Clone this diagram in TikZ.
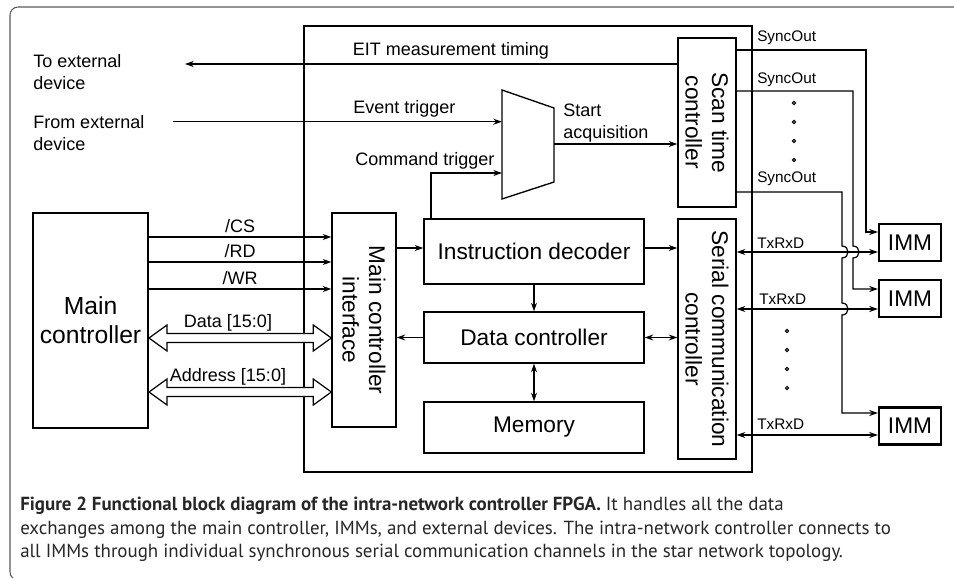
\documentclass[tikz,border=0pt]{standalone}
\usepackage{fontspec}
\setmainfont{Liberation Sans}
\newfontfamily\capfont{PT Sans}
\usetikzlibrary{arrows.meta}
\usetikzlibrary{calc}

\tikzset{
  blk/.style={draw, line width=1pt, inner sep=0pt, align=center, font=\fontsize{17}{20}\selectfont},
  sz/.style 2 args={minimum width=#1*0.75pt, minimum height=#2*0.75pt},
  lbl/.style={inner sep=0pt, align=left, font=\fontsize{13.5}{17}\selectfont},
  sml/.style={inner sep=0pt, font=\fontsize{11.5}{14}\selectfont},
  sig/.style={line width=0.9pt},
}

% wide hollow bus arrow between main controller and its interface
\newcommand{\busarrow}[2]{%
  \draw[line width=0.9pt, fill=white] (mainc.east|-0,#1) -- ++(18,-13) -- ++(0,8.5)
    -- ($(mif.south|-0,#1)+(-18,-4.5)$) -- ++(0,-8.5) -- (mif.south|-0,#1)
    -- ++(-18,13) -- ++(0,-8.5) -- ($(mainc.east|-0,#1)+(18,4.5)$) -- ++(0,8.5) -- cycle;
  \node[lbl] at (228,#1-15) {#2};}

\begin{document}
\begin{tikzpicture}[x=0.75pt, y=-0.75pt, >={Stealth[length=6.5pt,width=4.5pt]}]
  \useasboundingbox (0,0) rectangle (954,578);
  \draw[black!65, line width=0.8pt, rounded corners=6pt] (954,7) -- (10,7) -- (10,580) -- (40,580);

  % FPGA and its blocks
  \node[draw, line width=1.9pt, sz={448}{446}] (fpga) at (528,249) {};
  \node[blk, line width=1.5pt, sz={115}{215}, font=\fontsize{18.5}{21.75}\selectfont] (mainc) at (90.5,320.5) {Main\\controller};
  \node[blk, rotate=-90, sz={214}{64}] (mif) at (364,320) {Main controller\\interface};
  \node[blk, sz={220}{65}] (dec) at (534,251.5) {Instruction decoder};
  \node[blk, sz={220}{51}] (dctl) at (534,337.5) {Data controller};
  \node[blk, sz={220}{51}] (mem) at (534,427.5) {Memory};
  \node[blk, rotate=-90, sz={169}{58}] (scan) at (707,122.5) {Scan time\\controller};
  \node[blk, rotate=-90, sz={240}{58}] (ser) at (707,339) {Serial communication\\controller};
  \node[blk, line width=1.6pt, sz={62}{37}] (imm1) at (910,242.5) {IMM};
  \node[blk, line width=1.6pt, sz={62}{37}] (imm2) at (910,298.5) {IMM};
  \node[blk, line width=1.6pt, sz={62}{37}] (imm3) at (910,426) {IMM};

  % trigger selector
  \draw[line width=1pt] (502,90) -- (554,108) -- (554,182) -- (502,199) -- cycle;
  \coordinate (muxin1) at (502,121.7);
  \coordinate (muxin2) at (502,173);
  \coordinate (muxout) at (554,144);

  % external device lines
  \node[lbl, anchor=west] (toext) at (33,72) {To external\\device};
  \node[lbl, anchor=west] (fromext) at (33,133) {From external\\device};
  \coordinate (toend) at (185,64);
  \coordinate (fromend) at (173,121.7);
  \draw[->, sig] (scan.south|-0,64) -- (toend);
  \node[lbl] at (451,51) {EIT measurement timing};
  \draw[->, sig] (fromend) -- (muxin1);
  \node[lbl, anchor=west] at (353,109) {Event trigger};
  \draw[->, sig] (dec.north-|431,0) |- (muxin2);
  \node[lbl, anchor=west] at (355,161) {Command trigger};
  \draw[->, sig] (muxout) -- (muxout-|scan.south);
  \node[lbl, anchor=west] at (563,123) {Start\\acquisition};

  % main controller bus
  \draw[->, sig] (mainc.east|-0,237) -- (mif.south|-0,237) node[midway, above=3pt, lbl] {/CS};
  \draw[->, sig] (mainc.east|-0,262) -- (mif.south|-0,262) node[midway, above=3pt, lbl] {/RD};
  \draw[->, sig] (mainc.east|-0,289) -- (mif.south|-0,289) node[midway, above=3pt, lbl] {/WR};
  \busarrow{338}{Data [15:0]}
  \busarrow{392}{Address [15:0]}

  % internal paths
  \draw[->, sig] (mif.north|-0,248) -- (dec.west|-0,248);
  \draw[->, sig] (dec.east|-0,248) -- (ser.south|-0,248);
  \draw[->, sig] (dec.south) -- (dctl.north);
  \draw[->, sig] (dctl.west) -- (mif.north|-dctl.west);
  \draw[<->, sig] (dctl.east) -- (ser.south|-dctl.east);
  \draw[<->, sig] (dctl.south) -- (mem.north);

  % SyncOut lines, hopping over TxRxD
  \draw[->, sig] (scan.north|-0,50) -| (866,232) -- (imm1.west|-0,232);
  \draw[->, sig] (scan.north|-0,91) -- (853,91) -- (853,246) .. controls (861,246) and (861,258) .. (853,258)
    -- (853,289) -- (imm2.west|-0,289);
  \draw[->, sig] (scan.north|-0,192) -- (842,192) -- (842,246) .. controls (850,246) and (850,258) .. (842,258)
    -- (842,303) .. controls (850,303) and (850,315) .. (842,315) -- (842,413) -- (imm3.west|-0,413);
  \node[sml, anchor=west] at (757,38) {SyncOut};
  \node[sml, anchor=west] at (757,80) {SyncOut};
  \node[sml, anchor=west] at (757,179) {SyncOut};
  \foreach \y in {103,122,141,160} \draw[line width=0.7pt] (794,\y) circle (1.6);

  % TxRxD lines
  \draw[<->, sig] (ser.north|-0,252) -- (imm1.west|-0,252);
  \draw[<->, sig] (ser.north|-0,309) -- (imm2.west|-0,309);
  \draw[<->, sig] (ser.north|-0,435) -- (imm3.west|-0,435);
  \node[sml, anchor=west] at (757,243) {TxRxD};
  \node[sml, anchor=west] at (759,299) {TxRxD};
  \node[sml, anchor=west] at (757,424) {TxRxD};
  \foreach \y in {331,350,369,388} \draw[line width=0.7pt] (787,\y) circle (1.6);

  % caption
  \node[anchor=north west, inner sep=0pt, align=left, text=black!85,
        font=\capfont\fontsize{14.2}{17.6}\selectfont] (cap) at (20,497)
    {\textbf{Figure 2 Functional block diagram of the intra-network controller FPGA.} It handles all the data\\
     exchanges among the main controller, IMMs, and external devices. The intra-network controller connects to\\
     all IMMs through individual synchronous serial communication channels in the star network topology.};
\end{tikzpicture}
\end{document}
